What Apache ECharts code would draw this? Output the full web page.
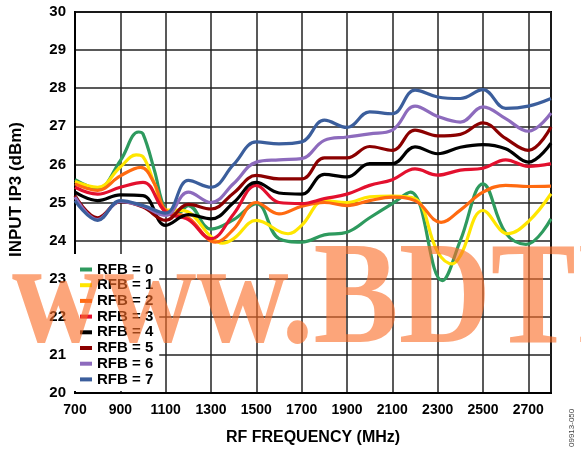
<!DOCTYPE html>
<html><head><meta charset="utf-8">
<script src="https://cdn.jsdelivr.net/npm/echarts@6/dist/echarts.min.js"></script>
<style>html,body{margin:0;padding:0;background:#fff}#c{width:581px;height:454px}</style>
</head><body><div id="c"></div>
<script>
var seriesNames = ['RFB = 0','RFB = 1','RFB = 2','RFB = 3','RFB = 4','RFB = 5','RFB = 6','RFB = 7'];
var seriesColors = ['#2e9a5e','#ffe600','#ff6a10','#e3102e','#000000','#8b0000','#8d6bbd','#3b5e9c'];
var freqCommon = [700,800,900,1000,1100,1200,1300,1400,1500,1600,1700,1800,1900,2000,2100,2200,2300,2400,2500,2600,2700,2800];

var rfb0 = [[700,25.6],[800,25.37],[900,26.1],[980,26.85],[1000,26.8],[1050,25.85],[1100,24.8],[1150,24.7],[1200,24.92],[1300,24.3],[1400,24.55],[1500,24.97],[1600,24.05],[1700,23.96],[1800,24.15],[1900,24.22],[2000,24.6],[2100,24.97],[2180,25.27],[2320,22.95],[2400,24.0],[2500,25.49],[2600,24.2],[2690,23.9],[2800,24.57]];
var rfb1 = [[700,25.55],[800,25.4],[900,25.93],[970,26.25],[1000,26.2],[1050,25.5],[1100,24.8],[1150,24.8],[1200,24.75],[1300,24.1],[1350,23.93],[1400,24.05],[1500,24.53],[1640,24.18],[1700,24.4],[1800,25.05],[1900,25.0],[2000,25.15],[2100,25.17],[2200,25.1],[2300,23.7],[2365,23.39],[2400,23.6],[2500,24.79],[2610,24.18],[2700,24.5],[2800,25.23]];
var rfb2 = [[700,25.49],[800,25.32],[900,25.7],[990,25.92],[1050,25.5],[1100,24.8],[1200,24.6],[1320,23.96],[1400,24.3],[1500,25.0],[1600,24.7],[1700,24.9],[1800,25.0],[1900,24.92],[2000,25.05],[2100,25.14],[2200,25.05],[2315,24.48],[2400,24.8],[2500,25.27],[2600,25.45],[2700,25.42],[2800,25.43]];
var rfb3 = [25.4,25.22,25.4,25.53,24.75,24.55,24.05,24.7,25.45,25.0,24.97,25.1,25.22,25.45,25.6,25.88,25.72,25.85,25.9,26.12,25.95,26.02];
var rfb4 = [25.27,25.05,25.2,25.18,24.4,24.68,24.57,25.0,25.53,25.25,25.22,25.74,25.67,26.02,26.02,26.46,26.28,26.45,26.52,26.41,26.06,26.56];
var rfb5 = [25.18,24.6,25.02,24.88,24.53,24.95,24.83,25.25,25.71,25.62,25.62,26.17,26.17,26.47,26.37,26.9,26.75,26.79,27.09,26.68,26.37,26.98];
var rfb6 = [25.14,24.55,25.03,24.9,24.66,25.27,25.0,25.5,26.06,26.12,26.15,26.63,26.72,26.8,26.9,27.53,27.26,27.11,27.51,27.2,26.87,27.35];
var rfb7 = [25.05,24.53,25.05,24.92,24.72,25.58,25.4,26.0,26.59,26.54,26.59,27.16,26.97,27.38,27.33,27.95,27.77,27.73,27.96,27.47,27.53,27.73];

function pair(vals){ return freqCommon.map(function(f,i){ return [f, vals[i]]; }); }
var allData = [rfb0, rfb1, rfb2, pair(rfb3), pair(rfb4), pair(rfb5), pair(rfb6), pair(rfb7)];

var chart = echarts.init(document.getElementById('c'));
var font = 'Liberation Sans';
chart.setOption({
  animation: false,
  backgroundColor: '#fff',
  grid: {left: 72, right: 30, top: 12, bottom: 61, show: true, borderColor: '#000', borderWidth: 2},
  xAxis: {
    type: 'value', min: 700, max: 2800, interval: 200,
    name: 'RF FREQUENCY (MHz)', nameLocation: 'middle', nameGap: 37,
    nameTextStyle: {fontFamily: font, fontWeight: 'bold', fontSize: 16, color: '#000'},
    axisLine: {show: true, lineStyle: {color: '#000', width: 2}},
    axisTick: {show: false},
    axisLabel: {margin: 10, fontFamily: font, fontWeight: 'bold', fontSize: 14, color: '#000', showMaxLabel: false,
      formatter: function(v){ return String(v); }},
    splitLine: {show: true, lineStyle: {color: '#222', width: 1.5}}
  },
  yAxis: {
    type: 'value', min: 20, max: 30, interval: 1,
    name: 'INPUT IP3 (dBm)', nameLocation: 'middle', nameGap: 50, nameRotate: 90,
    nameTextStyle: {fontFamily: font, fontWeight: 'bold', fontSize: 17, color: '#000', padding: [0, 0, 0, 26]},
    axisLine: {show: true, lineStyle: {color: '#000', width: 2}},
    axisTick: {show: false},
    axisLabel: {margin: 9, fontFamily: font, fontWeight: 'bold', fontSize: 15, color: '#000'},
    splitLine: {show: true, lineStyle: {color: '#222', width: 1.5}}
  },
  legend: {
    orient: 'vertical', left: 72, top: 254, backgroundColor: '#fff',
    padding: [8, 6, 4, 8], itemGap: 0.7, itemWidth: 12, itemHeight: 4, icon: 'rect',
    textStyle: {fontFamily: font, fontWeight: 'bold', fontSize: 15, color: '#000', lineHeight: 15},
    data: seriesNames
  },
  series: allData.map(function(d, i){
    return {
      name: seriesNames[i], type: 'line', data: d, smooth: 0.4, showSymbol: false,
      color: seriesColors[i], lineStyle: {width: 3.2, color: seriesColors[i]}
    };
  }),
  graphic: [
    {type: 'text', silent: true, z: 100, x: 12, y: 377, scaleX: 1.14, scaleY: 1.3,
     style: {text: 'www.BDTIC.com', font: 'bold 112px "Liberation Serif"', fill: 'rgba(250,110,40,0.62)', textVerticalAlign: 'bottom'}},
    {type: 'text', silent: true, z: 100, x: 568, y: 447, rotation: Math.PI/2,
     style: {text: '09913-050', font: '8px "Liberation Sans"', fill: '#444'}}
  ]
});
</script></body></html>
